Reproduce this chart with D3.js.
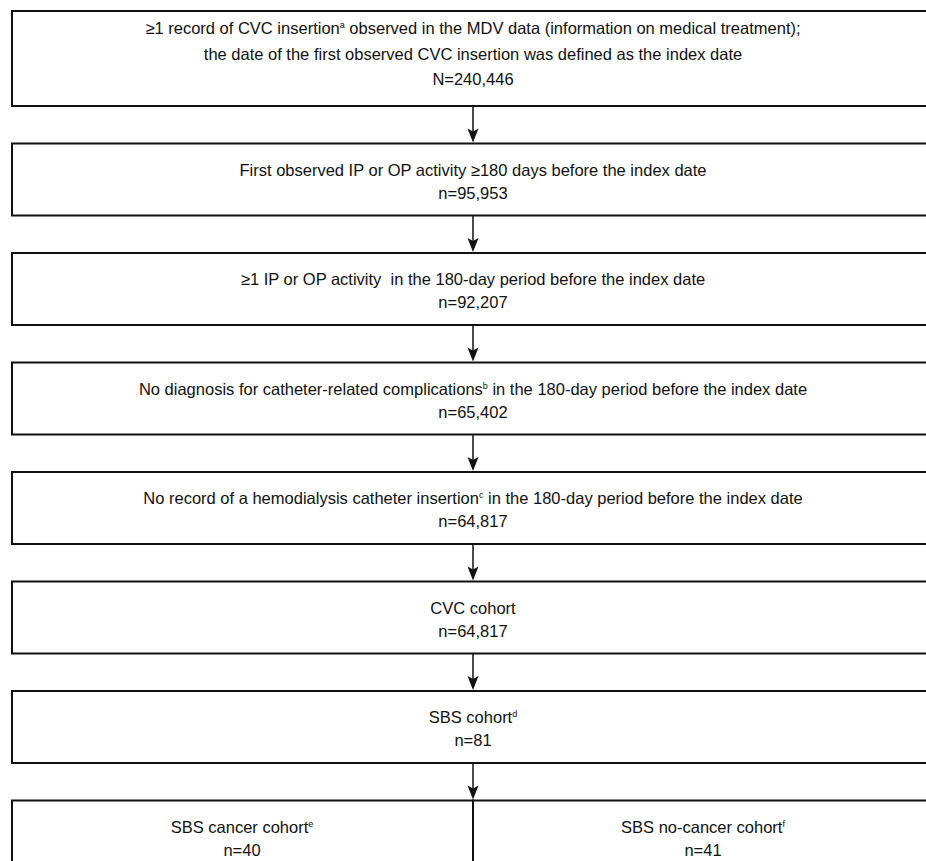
<!DOCTYPE html>
<html>
<head>
<meta charset="utf-8">
<script src="https://cdn.jsdelivr.net/npm/d3@7"></script>
<style>
  body { margin: 0; background: #fff; }
  text { font-family: "Liberation Sans", Arial, sans-serif; fill: #111; white-space: pre; }
</style>
</head>
<body>
<div id="chart"></div>
<script>

// each step: lines of text, [text, superscript] pieces
let stepLines = [
  [[["≥1 record of CVC insertion", "a"], [" observed in the MDV data (information on medical treatment);", ""]],
   [["the date of the first observed CVC insertion was defined as the index date", ""]]],
  [[["First observed IP or OP activity ≥180 days before the index date", ""]]],
  [[["≥1 IP or OP activity  in the 180-day period before the index date", ""]]],
  [[["No diagnosis for catheter-related complications", "b"], [" in the 180-day period before the index date", ""]]],
  [[["No record of a hemodialysis catheter insertion", "c"], [" in the 180-day period before the index date", ""]]],
  [[["CVC cohort", ""]]],
  [[["SBS cohort", "d"]]]
];
let stepCounts = ["N=240,446", "n=95,953", "n=92,207", "n=65,402", "n=64,817", "n=64,817", "n=81"];

let splitLabels = [["SBS cancer cohort", "e"], ["SBS no-cancer cohort", "f"]];
let splitCounts = ["n=40", "n=41"];

let width = 926, height = 861;
let boxLeft = 12, boxRight = 934;
let gap = 37.5;
let fontSize = 16.5;

let svg = d3.select("#chart").append("svg")
  .attr("width", width)
  .attr("height", height);

// layout: box tops from cumulative heights
let boxes = [];
let y = 11;
stepLines.forEach(function(lines, i) {
  let h = i == 0 ? 95 : 72;
  boxes.push({lines: lines, count: stepCounts[i], top: y, h: h,
              first: i == 0 ? 23 : 32, lh: i == 0 ? 25.5 : 23});
  y += h + gap;
});
let splitTop = y;

let x = d3.scaleLinear().domain([0, 1]).range([boxLeft, boxRight]);
let cx = x(0.5);

// boxes
svg.selectAll("rect.step").data(boxes).enter()
  .append("rect")
  .attr("class", "step")
  .attr("x", boxLeft)
  .attr("y", d => d.top)
  .attr("width", boxRight - boxLeft)
  .attr("height", d => d.h)
  .attr("fill", "none")
  .attr("stroke", "#111")
  .attr("stroke-width", 2);

function addLine(g, pieces, tx, ty) {
  let t = g.append("text")
    .attr("x", tx).attr("y", ty)
    .attr("text-anchor", "middle")
    .attr("xml:space", "preserve")
    .style("font-size", fontSize + "px");
  let back = 0;
  pieces.forEach(function(p) {
    t.append("tspan").attr("dy", back).text(p[0]);
    back = 0;
    if (p[1] != "") {
      t.append("tspan")
        .attr("dy", -6)
        .style("font-size", "9px")
        .text(p[1]);
      back = 6;
    }
  });
}

boxes.forEach(function(b) {
  let g = svg.append("g");
  let all = b.lines.concat([[[b.count, ""]]]);
  all.forEach(function(pieces, k) {
    addLine(g, pieces, cx, b.top + b.first + k * b.lh);
  });
});

// arrows between boxes
let links = boxes.map(function(b, i) {
  let nextTop = i < boxes.length - 1 ? boxes[i + 1].top : splitTop;
  return {y0: b.top + b.h, y1: nextTop};
});
svg.selectAll("line.link").data(links).enter()
  .append("line")
  .attr("class", "link")
  .attr("x1", cx).attr("x2", cx)
  .attr("y1", d => d.y0).attr("y2", d => d.y1 - 8)
  .attr("stroke", "#111")
  .attr("stroke-width", 1.5);

svg.selectAll("path.head").data(links).enter()
  .append("path")
  .attr("class", "head")
  .attr("d", d => "M" + (cx - 5.5) + "," + (d.y1 - 15) +
                  " L" + cx + "," + (d.y1 - 12) +
                  " L" + (cx + 5.5) + "," + (d.y1 - 15) +
                  " L" + cx + "," + (d.y1 - 1) + " Z")
  .attr("fill", "#111");

// split box at bottom
let splitH = 100;
let halves = splitLabels.map(function(l, i) {
  return {label: l, count: splitCounts[i], x0: x(i * 0.5), x1: x(i * 0.5 + 0.5)};
});
svg.selectAll("rect.split").data(halves).enter()
  .append("rect")
  .attr("class", "split")
  .attr("x", d => d.x0)
  .attr("y", splitTop)
  .attr("width", d => d.x1 - d.x0)
  .attr("height", splitH)
  .attr("fill", "none")
  .attr("stroke", "#111")
  .attr("stroke-width", 2);

let halfCentres = [242, 703];
halves.forEach(function(d, i) {
  let g = svg.append("g");
  addLine(g, [d.label], halfCentres[i], splitTop + 32);
  addLine(g, [[d.count, ""]], halfCentres[i], splitTop + 32 + 23);
});

</script>
</body>
</html>
